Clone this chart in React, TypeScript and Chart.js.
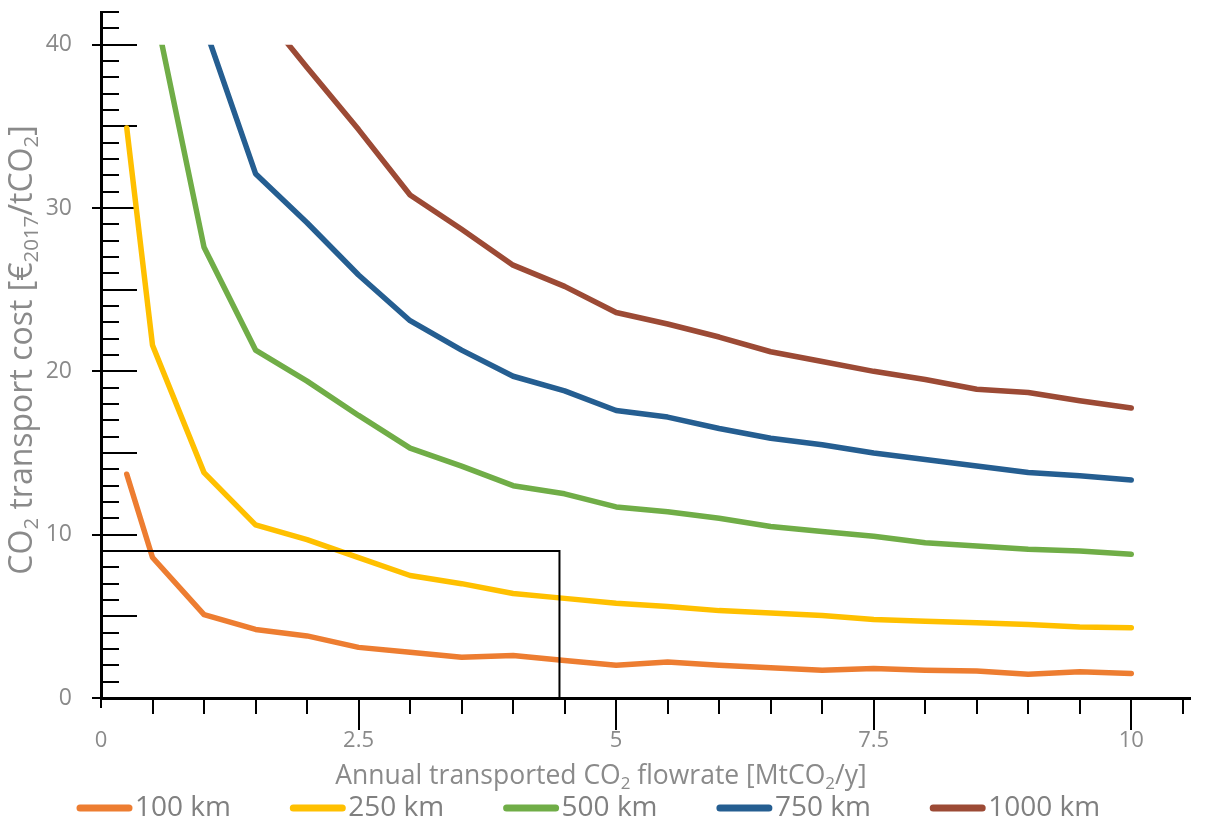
import React, { useEffect, useRef } from 'react';
import { Chart, registerables } from 'chart.js';

Chart.register(...registerables);

// ---- Data ----
const FLOWRATE = [0.25, 0.5, 1, 1.5, 2, 2.5, 3, 3.5, 4, 4.5, 5, 5.5, 6, 6.5, 7, 7.5, 8, 8.5, 9, 9.5, 10];
const COST_100KM = [13.7, 8.6, 5.1, 4.2, 3.8, 3.1, 2.8, 2.5, 2.6, 2.3, 2.0, 2.2, 2.0, 1.85, 1.7, 1.8, 1.7, 1.65, 1.45, 1.6, 1.5];
const COST_250KM = [34.9, 21.6, 13.8, 10.6, 9.7, 8.6, 7.5, 7.0, 6.4, 6.1, 5.8, 5.6, 5.35, 5.2, 5.05, 4.8, 4.7, 4.6, 4.5, 4.35, 4.3];
const COST_500KM = [null, 42.8, 27.6, 21.3, 19.4, 17.3, 15.3, 14.2, 13.0, 12.5, 11.7, 11.4, 11.0, 10.5, 10.2, 9.9, 9.5, 9.3, 9.1, 9.0, 8.8];
const COST_750KM = [null, null, 41.2, 32.1, 29.1, 25.9, 23.1, 21.3, 19.7, 18.8, 17.6, 17.2, 16.5, 15.9, 15.5, 15.0, 14.6, 14.2, 13.8, 13.6, 13.35];
const COST_1000KM = [null, null, null, 42.5, 38.6, 34.8, 30.8, 28.7, 26.5, 25.2, 23.6, 22.9, 22.1, 21.2, 20.6, 20.0, 19.5, 18.9, 18.7, 18.2, 17.75];

const SERIES_LABELS = ['100 km', '250 km', '500 km', '750 km', '1000 km'];
const SERIES_VALUES = [COST_100KM, COST_250KM, COST_500KM, COST_750KM, COST_1000KM];
const SERIES_COLORS = ['#ED7D31', '#FFC000', '#70AD47', '#255E91', '#9C4A35'];

const X_TICKS = [0, 2.5, 5, 7.5, 10];
const Y_TICKS = [0, 10, 20, 30, 40];
const X_MAX = 10.57;
const Y_MAX = 42;
const Y_CLIP = 40; // curves are cut off at this value
const BOX_X = 4.45; // highlighted region corner
const BOX_Y = 9;

const X_TITLE = [
  ['Annual transported CO', false],
  ['2', true],
  [' flowrate [MtCO', false],
  ['2', true],
  ['/y]', false],
] as [string, boolean][];
const Y_TITLE = [
  ['CO', false],
  ['2', true],
  [' transport cost [€', false],
  ['2017', true],
  ['/tCO', false],
  ['2', true],
  [']', false],
] as [string, boolean][];

const FONT = '"Open Sans", "DejaVu Sans", sans-serif';
const TEXT_COLOR = '#8a8a8a';

function drawRich(ctx: CanvasRenderingContext2D, parts: [string, boolean][], cx: number, cy: number, size: number) {
  const sub = size * 0.64;
  let w = 0;
  for (const [t, s] of parts) {
    ctx.font = `${s ? sub : size}px ${FONT}`;
    w += ctx.measureText(t).width;
  }
  let x = cx - w / 2;
  ctx.textAlign = 'left';
  ctx.textBaseline = 'middle';
  for (const [t, s] of parts) {
    ctx.font = `${s ? sub : size}px ${FONT}`;
    ctx.fillText(t, x, cy + (s ? size * 0.3 : 0));
    x += ctx.measureText(t).width;
  }
}

const decorPlugin = {
  id: 'decor',
  beforeDatasetsDraw(chart: any) {
    const { ctx, chartArea, scales } = chart;
    const x = scales.x;
    const y = scales.y;
    ctx.save();
    ctx.strokeStyle = '#000';
    ctx.lineWidth = 2;
    ctx.beginPath();
    for (let v = 1; v <= Y_MAX; v++) {
      const py = Math.round(y.getPixelForValue(v));
      const len = v % 5 === 0 ? 36 : 18;
      ctx.moveTo(chartArea.left, py);
      ctx.lineTo(chartArea.left + len, py);
    }
    for (let k = 0; k * 0.5 <= X_MAX; k++) {
      const v = k * 0.5;
      const px = Math.round(x.getPixelForValue(v));
      const len = v === 0 ? 10 : v % 2.5 === 0 ? 32 : 16;
      ctx.moveTo(px, chartArea.bottom);
      ctx.lineTo(px, chartArea.bottom + len);
    }
    ctx.stroke();
    ctx.restore();
    // clip the curves at Y_CLIP
    ctx.save();
    const top = y.getPixelForValue(Y_CLIP);
    ctx.beginPath();
    ctx.rect(chartArea.left, top, chartArea.right - chartArea.left, chartArea.bottom - top + 10);
    ctx.clip();
  },
  afterDatasetsDraw(chart: any) {
    const { ctx, scales } = chart;
    ctx.restore();
    const x = scales.x;
    const y = scales.y;
    ctx.save();
    ctx.strokeStyle = '#000';
    ctx.lineWidth = 2;
    ctx.beginPath();
    const bx = x.getPixelForValue(BOX_X);
    const by = y.getPixelForValue(BOX_Y);
    ctx.moveTo(x.getPixelForValue(0), by);
    ctx.lineTo(bx, by);
    ctx.lineTo(bx, y.getPixelForValue(0));
    ctx.stroke();
    ctx.restore();
  },
  afterDraw(chart: any) {
    const { ctx, chartArea } = chart;
    ctx.save();
    ctx.fillStyle = TEXT_COLOR;
    // x title
    drawRich(ctx, X_TITLE, 601, 776, 26.5);
    // y title
    ctx.save();
    ctx.translate(23, 350);
    ctx.rotate(-Math.PI / 2);
    drawRich(ctx, Y_TITLE, 0, 0, 32);
    ctx.restore();
    // legend
    const legendY = 808;
    chart.data.datasets.forEach((ds: any, i: number) => {
      const x0 = 77 + i * 213.3;
      ctx.strokeStyle = ds.borderColor;
      ctx.lineWidth = 7;
      ctx.lineCap = 'round';
      ctx.beginPath();
      ctx.moveTo(x0 + 3, legendY);
      ctx.lineTo(x0 + 52, legendY);
      ctx.stroke();
      ctx.fillStyle = '#808080';
      ctx.font = `28px ${FONT}`;
      ctx.textAlign = 'left';
      ctx.textBaseline = 'middle';
      ctx.fillText(ds.label, x0 + 58, legendY);
    });
    ctx.restore();
  },
};

export default function App() {
  const canvasRef = useRef<HTMLCanvasElement | null>(null);

  useEffect(() => {
    const canvas = canvasRef.current;
    if (!canvas) return;
    const datasets = SERIES_VALUES.map((vals, i) => ({
      label: SERIES_LABELS[i],
      data: FLOWRATE.map((fx, j) => ({ x: fx, y: vals[j] })).filter((p) => p.y !== null),
      borderColor: SERIES_COLORS[i],
      backgroundColor: SERIES_COLORS[i],
      borderWidth: 5.5,
      pointRadius: 0,
      tension: 0,
      fill: false,
      borderCapStyle: 'round',
      borderJoinStyle: 'round',
    }));
    const chart = new Chart(canvas, {
      type: 'line',
      data: { datasets } as any,
      plugins: [decorPlugin],
      options: {
        responsive: false,
        animation: false,
        layout: { padding: { top: 12, right: 32, left: 0, bottom: 0 } },
        plugins: { legend: { display: false }, tooltip: { enabled: false }, title: { display: false } },
        scales: {
          x: {
            type: 'linear',
            min: 0,
            max: X_MAX,
            afterBuildTicks: (s: any) => {
              s.ticks = X_TICKS.map((v) => ({ value: v }));
            },
            afterFit: (s: any) => {
              s.height = 128;
              s.paddingLeft = 0;
              s.paddingRight = 0;
            },
            grid: { display: false, drawTicks: false },
            border: { display: true, color: '#000', width: 3 },
            ticks: {
              autoSkip: false,
              maxRotation: 0,
              padding: 30,
              color: TEXT_COLOR,
              font: { family: 'Open Sans', size: 22 },
              callback: (v: any) => String(v),
            },
          },
          y: {
            type: 'linear',
            min: 0,
            max: Y_MAX,
            afterBuildTicks: (s: any) => {
              s.ticks = Y_TICKS.map((v) => ({ value: v }));
            },
            afterFit: (s: any) => {
              s.width = 101;
              s.paddingTop = 0;
              s.paddingBottom = 0;
            },
            grid: { drawOnChartArea: false, drawTicks: true, tickLength: 9, color: '#000', lineWidth: 2 },
            border: { display: true, color: '#000', width: 3 },
            ticks: {
              padding: 20,
              color: TEXT_COLOR,
              font: { family: 'Open Sans', size: 23 },
              callback: (v: any) => String(v),
            },
          },
        },
      } as any,
    });
    return () => chart.destroy();
  }, []);

  return (
    <div style={{ position: 'fixed', left: 0, top: 0, width: 1222, height: 826, background: '#fff' }}>
      <canvas ref={canvasRef} width={1222} height={826} style={{ display: 'block', width: 1222, height: 826 }} />
    </div>
  );
}
